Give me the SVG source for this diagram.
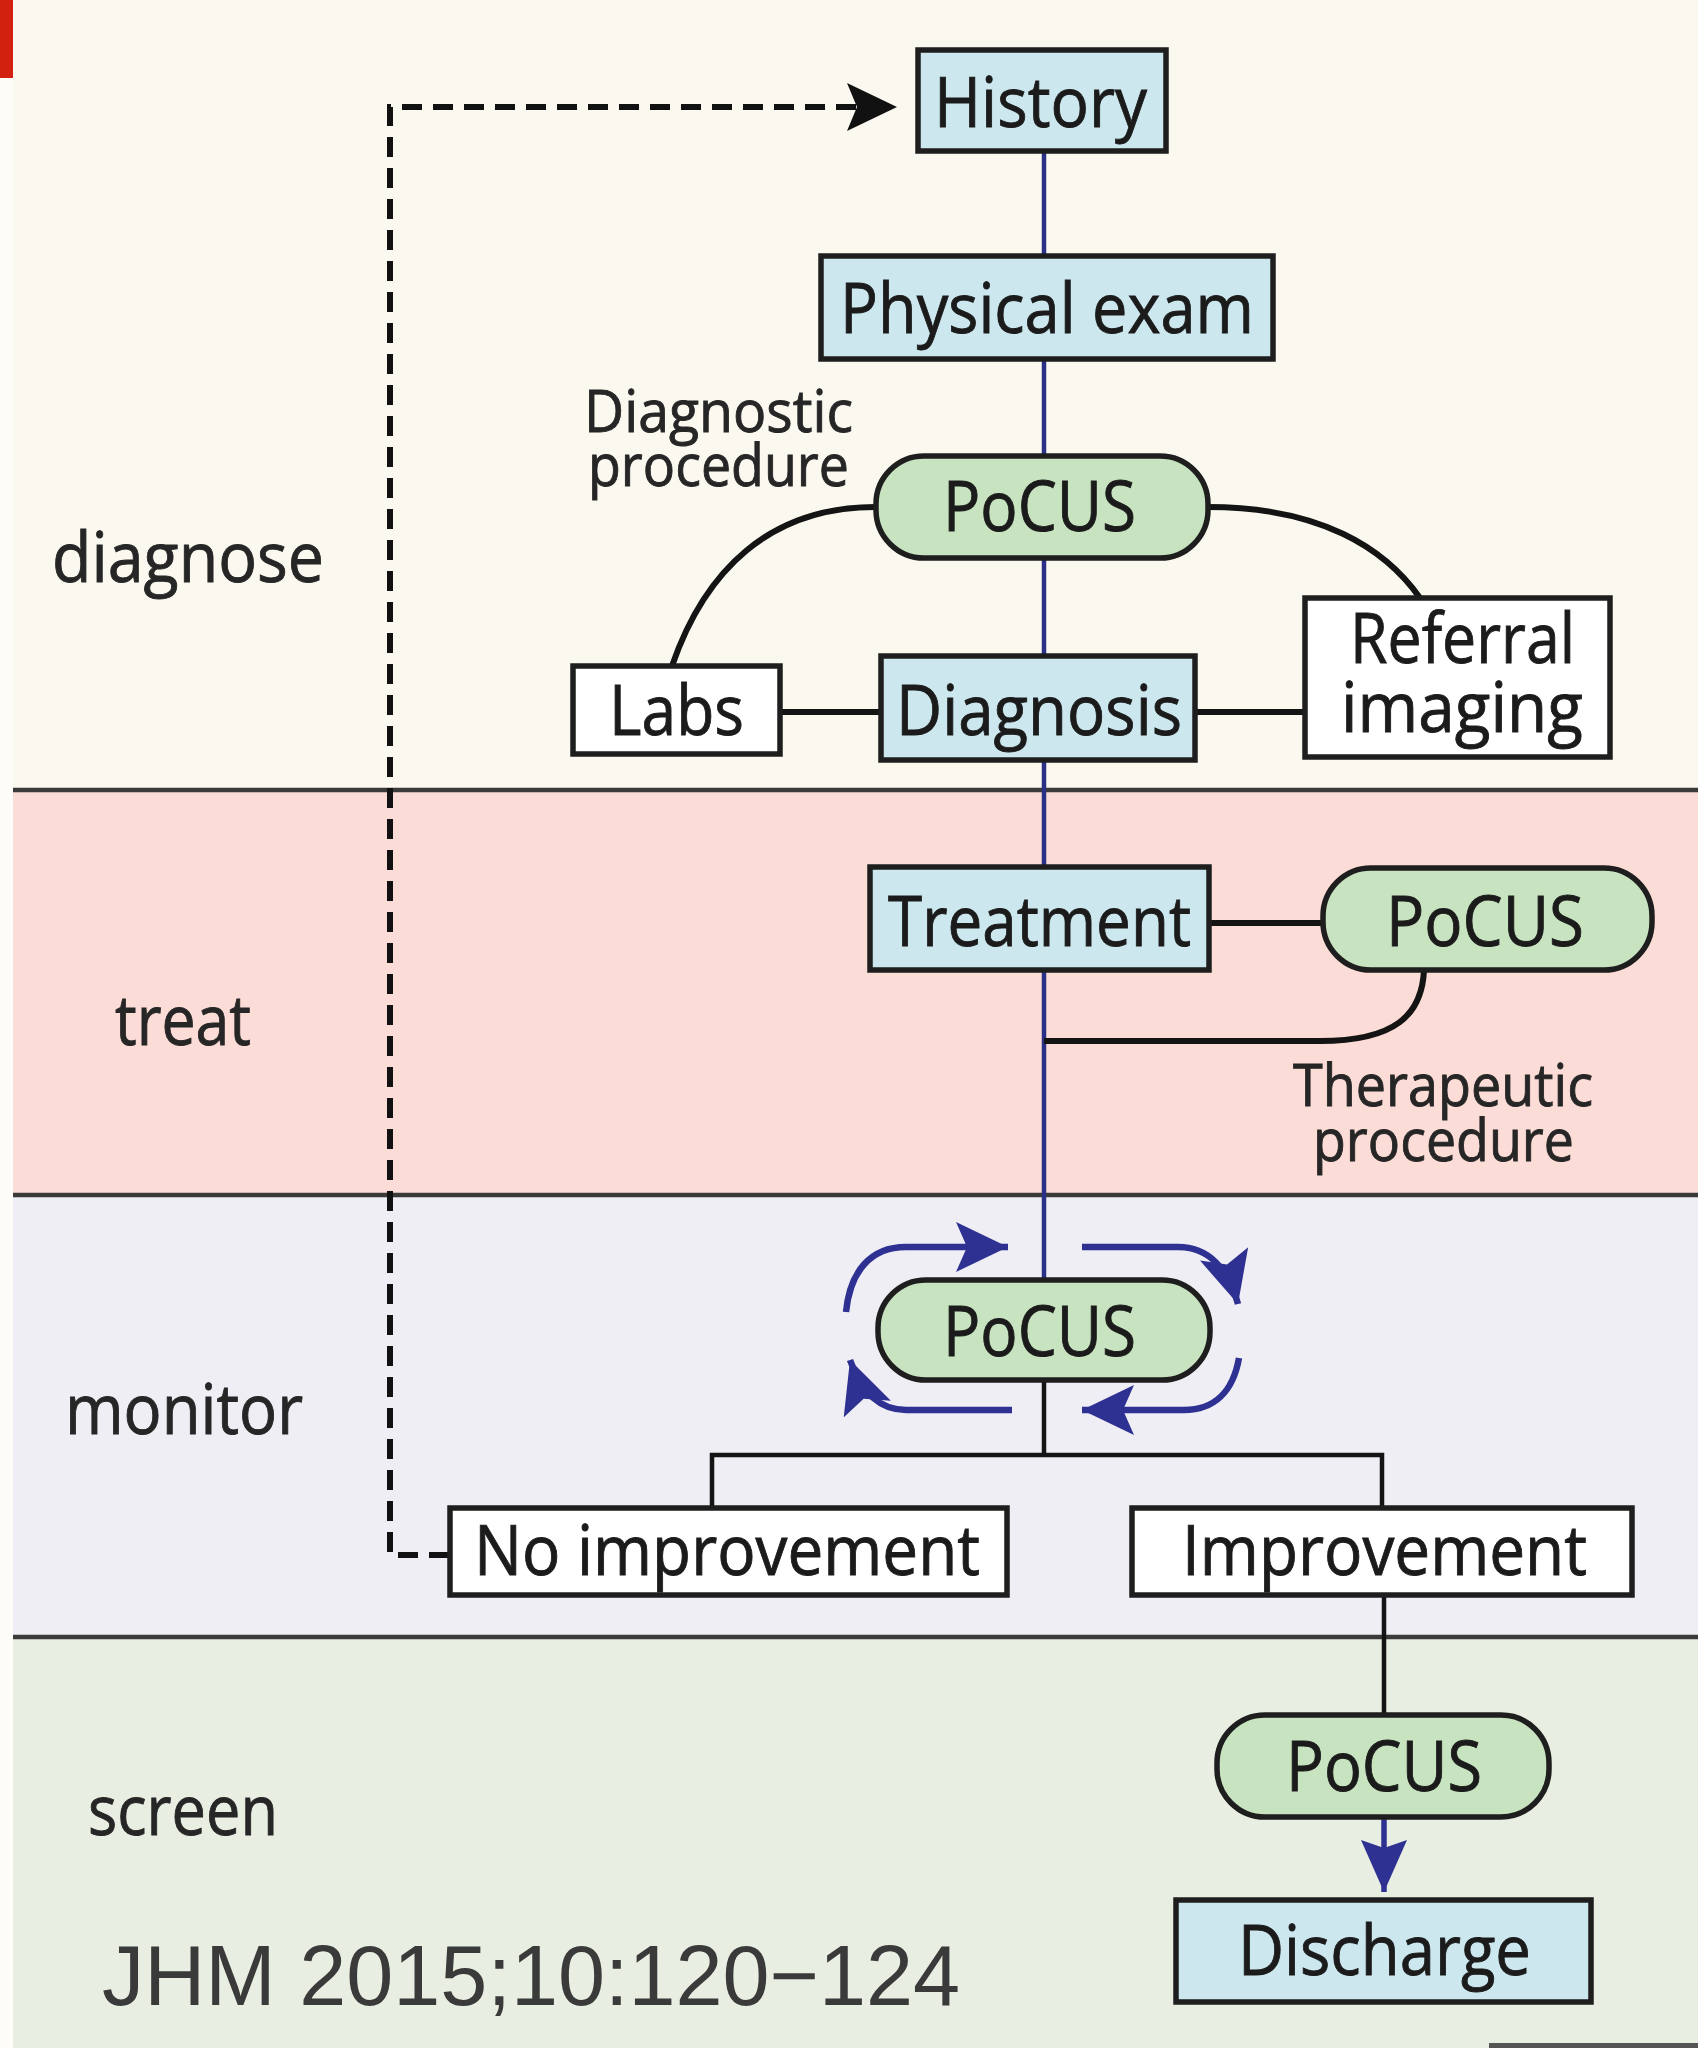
<svg xmlns="http://www.w3.org/2000/svg" width="1698" height="2048" viewBox="0 0 1698 2048">
<style>
.lbl{font-family:"Open Sans","Noto Sans","DejaVu Sans",sans-serif;fill:#1b1b1b;stroke:#1b1b1b;stroke-width:0.9;}
.node{font-size:70px;}
.band{font-size:70px;fill:#262626;stroke:#262626;}
.proc{font-size:59px;fill:#262626;stroke:#262626;}
.box{stroke:#1e1e1e;stroke-width:5.5;}
.blue{fill:#cce8ee;}
.green{fill:#c8e3c0;}
.white{fill:#ffffff;}
.conn{fill:none;stroke:#141414;stroke-width:6;}
.thin{fill:none;stroke:#141414;stroke-width:4.5;}
.cyc{fill:none;stroke:#2e3192;stroke-width:6.5;}
.sep{stroke:#3a3a3a;stroke-width:4.5;}
</style>
<defs>
<marker id="ahBlue" markerUnits="userSpaceOnUse" markerWidth="56" markerHeight="52" refX="52" refY="25" orient="auto">
<path d="M0,0 L52,25 L0,50 L11,25 z" fill="#2e3192"/>
</marker>
<marker id="ahBlack" markerUnits="userSpaceOnUse" markerWidth="52" markerHeight="50" refX="50" refY="24" orient="auto">
<path d="M0,0 L50,24 L0,48 L10,24 z" fill="#111"/>
</marker>
<marker id="ahDown" markerUnits="userSpaceOnUse" markerWidth="54" markerHeight="48" refX="52" refY="23" orient="auto">
<path d="M0,0 L52,23 L0,46 L8,23 z" fill="#2e3192"/>
</marker>
</defs>

<!-- backgrounds -->
<rect x="0" y="0" width="1698" height="2048" fill="#fdfcf9"/>
<rect x="13" y="0" width="1685" height="790" fill="#fbf8f0"/>
<rect x="13" y="790" width="1685" height="405" fill="#fcdcd7"/>
<rect x="13" y="1195" width="1685" height="442" fill="#efeef5"/>
<rect x="13" y="1637" width="1685" height="411" fill="#e8efe2"/>
<rect x="0" y="0" width="13" height="78" fill="#d2220f"/>
<rect x="1489" y="2043" width="209" height="5" fill="#555"/>
<line class="sep" x1="13" y1="790" x2="1698" y2="790"/>
<line class="sep" x1="13" y1="1195" x2="1698" y2="1195"/>
<line class="sep" x1="13" y1="1637" x2="1698" y2="1637"/>

<!-- band labels -->
<g id="band-labels" class="lbl band">
<text x="52" y="582" textLength="272" lengthAdjust="spacingAndGlyphs">diagnose</text>
<text x="115" y="1045" textLength="136" lengthAdjust="spacingAndGlyphs">treat</text>
<text x="65" y="1434" textLength="238" lengthAdjust="spacingAndGlyphs">monitor</text>
<text x="88" y="1835" textLength="190" lengthAdjust="spacingAndGlyphs">screen</text>
</g>

<!-- connectors -->
<g id="connectors">
<line x1="1044" y1="151" x2="1044" y2="1280" stroke="#2b3087" stroke-width="4.5"/>
<path class="conn" d="M875,507 C770,507 705,570 672,666"/>
<path class="conn" d="M1208,507 C1320,507 1385,548 1420,598"/>
<line class="conn" x1="780" y1="712" x2="881" y2="712"/>
<line class="conn" x1="1195" y1="712" x2="1305" y2="712"/>
<line class="conn" x1="1209" y1="923" x2="1323" y2="923"/>
<path class="conn" d="M1424,970 C1422,1015 1395,1041 1320,1041 L1044,1041"/>
<path class="thin" d="M1044,1380 L1044,1455 M712,1508 L712,1455 L1382,1455 L1382,1508 M1384,1596 L1384,1715"/>
<line x1="1384" y1="1817" x2="1384" y2="1892" stroke="#2e3192" stroke-width="5.5" marker-end="url(#ahDown)"/>
<path d="M449,1555 L390,1555 L390,107 L897,107" fill="none" stroke="#111" stroke-width="6" stroke-dasharray="20 11" marker-end="url(#ahBlack)"/>
<path class="cyc" d="M846,1312 C850,1272 870,1247 906,1247 L1008,1247" marker-end="url(#ahBlue)"/>
<path class="cyc" d="M1082,1247 L1178,1247 C1208,1247 1228,1268 1238,1304" marker-end="url(#ahBlue)"/>
<path class="cyc" d="M1239,1358 C1233,1392 1214,1410 1184,1410 L1082,1410" marker-end="url(#ahBlue)"/>
<path class="cyc" d="M1012,1410 L906,1410 C880,1410 862,1394 850,1360" marker-end="url(#ahBlue)"/>
</g>

<!-- procedure labels -->
<g id="diag-proc-label" class="lbl proc">
<text><tspan x="584" y="432" textLength="269" lengthAdjust="spacingAndGlyphs">Diagnostic</tspan><tspan x="588" y="486" textLength="261" lengthAdjust="spacingAndGlyphs">procedure</tspan></text>
</g>
<g id="ther-proc-label" class="lbl proc">
<text><tspan x="1293" y="1106" textLength="300" lengthAdjust="spacingAndGlyphs">Therapeutic</tspan><tspan x="1313" y="1161" textLength="261" lengthAdjust="spacingAndGlyphs">procedure</tspan></text>
</g>

<!-- nodes -->
<g id="history">
<rect class="box blue" x="918" y="50" width="248" height="101"/>
<text class="lbl node" x="934" y="127" textLength="213" lengthAdjust="spacingAndGlyphs">History</text>
</g>
<g id="physical-exam">
<rect class="box blue" x="821" y="256" width="452" height="103"/>
<text class="lbl node" x="840" y="333" textLength="414" lengthAdjust="spacingAndGlyphs">Physical exam</text>
</g>
<g id="pocus-diagnose">
<rect class="box green" x="876" y="456" width="332" height="102" rx="48" ry="48"/>
<text class="lbl node" x="943" y="531" textLength="193" lengthAdjust="spacingAndGlyphs">PoCUS</text>
</g>
<g id="labs">
<rect class="box white" x="573" y="666" width="207" height="88"/>
<text class="lbl node" x="609" y="735" textLength="135" lengthAdjust="spacingAndGlyphs">Labs</text>
</g>
<g id="diagnosis">
<rect class="box blue" x="881" y="656" width="314" height="104"/>
<text class="lbl node" x="896" y="735" textLength="286" lengthAdjust="spacingAndGlyphs">Diagnosis</text>
</g>
<g id="referral-imaging">
<rect class="box white" x="1305" y="598" width="305" height="159"/>
<text class="lbl node"><tspan x="1350" y="663" textLength="225" lengthAdjust="spacingAndGlyphs">Referral</tspan><tspan x="1341" y="732" textLength="242" lengthAdjust="spacingAndGlyphs">imaging</tspan></text>
</g>
<g id="treatment">
<rect class="box blue" x="870" y="867" width="339" height="103"/>
<text class="lbl node" x="888" y="946" textLength="303" lengthAdjust="spacingAndGlyphs">Treatment</text>
</g>
<g id="pocus-treat">
<rect class="box green" x="1323" y="868" width="329" height="102" rx="48" ry="48"/>
<text class="lbl node" x="1386" y="946" textLength="198" lengthAdjust="spacingAndGlyphs">PoCUS</text>
</g>
<g id="pocus-monitor">
<rect class="box green" x="878" y="1280" width="332" height="100" rx="48" ry="48"/>
<text class="lbl node" x="943" y="1356" textLength="193" lengthAdjust="spacingAndGlyphs">PoCUS</text>
</g>
<g id="no-improvement">
<rect class="box white" x="450" y="1508" width="557" height="87"/>
<text class="lbl node" x="474" y="1575" textLength="506" lengthAdjust="spacingAndGlyphs">No improvement</text>
</g>
<g id="improvement">
<rect class="box white" x="1132" y="1508" width="500" height="87"/>
<text class="lbl node" x="1182" y="1575" textLength="405" lengthAdjust="spacingAndGlyphs">Improvement</text>
</g>
<g id="pocus-screen">
<rect class="box green" x="1217" y="1715" width="332" height="102" rx="48" ry="48"/>
<text class="lbl node" x="1286" y="1791" textLength="196" lengthAdjust="spacingAndGlyphs">PoCUS</text>
</g>
<g id="discharge">
<rect class="box blue" x="1176" y="1900" width="415" height="102"/>
<text class="lbl node" x="1238" y="1975" textLength="293" lengthAdjust="spacingAndGlyphs">Discharge</text>
</g>

<g id="citation">
<text x="102" y="2005" font-family="'Liberation Sans',Arial,sans-serif" font-size="86" fill="#3a3a3a" textLength="858" lengthAdjust="spacingAndGlyphs">JHM 2015;10:120−124</text>
</g>
</svg>
